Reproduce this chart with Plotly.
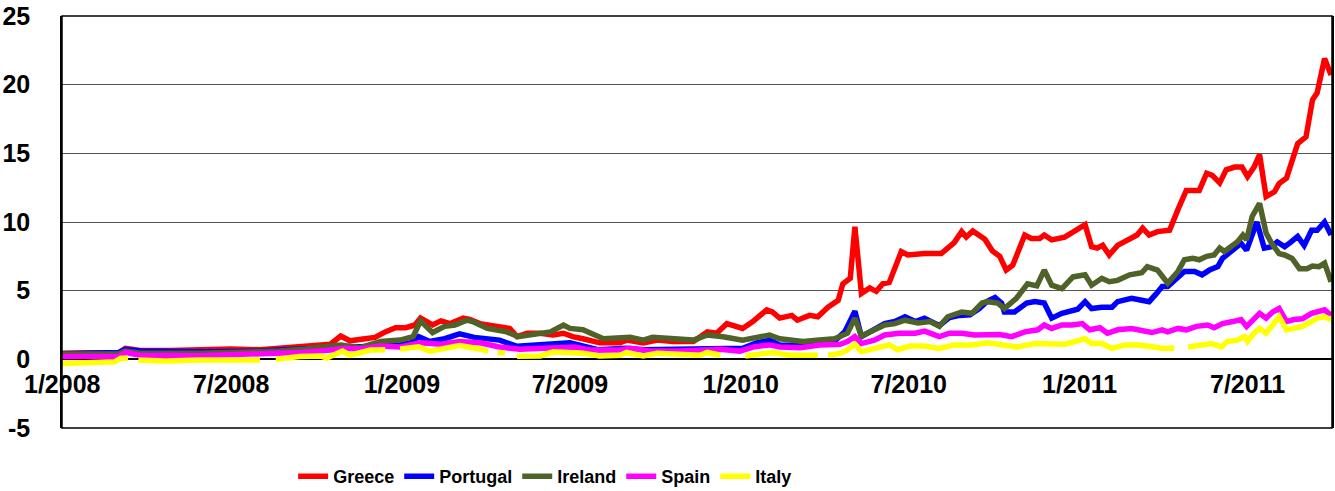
import plotly.graph_objects as go

# ---------------- data ----------------
greece_dates = ["2008-01-01","2008-02-11","2008-03-02","2008-03-09","2008-03-25","2008-04-27","2008-05-18","2008-06-09","2008-06-30","2008-08-01","2008-09-03","2008-09-19","2008-10-05","2008-10-16","2008-10-27","2008-11-06","2008-11-22","2008-12-03","2008-12-14","2008-12-25","2009-01-05","2009-01-15","2009-01-21","2009-02-03","2009-02-12","2009-02-22","2009-03-08","2009-03-15","2009-03-26","2009-04-11","2009-04-27","2009-05-05","2009-05-16","2009-05-30","2009-06-13","2009-06-24","2009-07-04","2009-07-15","2009-08-02","2009-08-24","2009-08-31","2009-09-18","2009-10-03","2009-10-20","2009-11-11","2009-11-26","2009-12-06","2009-12-17","2010-01-03","2010-01-14","2010-01-29","2010-02-04","2010-02-12","2010-02-25","2010-03-03","2010-03-16","2010-03-25","2010-04-05","2010-04-16","2010-04-21","2010-04-29","2010-05-04","2010-05-11","2010-05-20","2010-05-27","2010-06-03","2010-06-10","2010-06-23","2010-06-30","2010-07-18","2010-08-05","2010-08-19","2010-08-27","2010-09-01","2010-09-08","2010-09-21","2010-09-29","2010-10-07","2010-10-14","2010-10-21","2010-11-03","2010-11-10","2010-11-19","2010-11-24","2010-12-02","2010-12-16","2010-12-27","2011-01-07","2011-01-14","2011-01-20","2011-01-26","2011-02-02","2011-02-11","2011-02-22","2011-03-04","2011-03-10","2011-03-17","2011-03-26","2011-04-08","2011-04-17","2011-04-26","2011-05-10","2011-05-18","2011-05-24","2011-06-01","2011-06-08","2011-06-17","2011-06-25","2011-07-01","2011-07-08","2011-07-14","2011-07-21","2011-07-30","2011-08-04","2011-08-12","2011-08-24","2011-09-02","2011-09-09","2011-09-14","2011-09-22","2011-09-29"]
greece_values = [0.45,0.45,0.5,0.8,0.65,0.65,0.7,0.75,0.75,0.7,0.85,0.95,1.0,1.1,1.7,1.35,1.5,1.6,2.0,2.3,2.3,2.5,3.0,2.5,2.8,2.6,3.0,2.9,2.6,2.4,2.25,1.65,1.9,1.9,1.77,1.9,1.65,1.5,1.2,1.2,1.4,1.2,1.4,1.3,1.3,2.0,1.9,2.6,2.25,2.75,3.6,3.45,3.0,3.2,2.85,3.2,3.1,3.8,4.3,5.5,5.9,9.65,4.8,5.2,4.95,5.5,5.6,7.85,7.6,7.7,7.7,8.5,9.3,8.9,9.35,8.75,7.9,7.5,6.5,6.85,9.05,8.8,8.8,9.05,8.7,8.9,9.4,9.8,8.2,8.1,8.3,7.6,8.3,8.7,9.05,9.55,9.05,9.3,9.4,10.9,12.3,12.3,13.55,13.4,12.85,13.8,14.0,14.0,13.3,14.0,14.9,11.85,12.2,12.8,13.2,15.7,16.2,18.9,19.4,21.9,20.7]

portugal_dates = ["2008-01-01","2008-02-11","2008-03-02","2008-03-09","2008-03-25","2008-05-29","2008-08-01","2008-09-13","2008-10-16","2008-11-17","2008-12-09","2008-12-30","2009-01-10","2009-01-19","2009-01-31","2009-02-16","2009-03-04","2009-03-20","2009-04-16","2009-05-05","2009-05-30","2009-07-01","2009-07-31","2009-08-31","2009-09-18","2009-10-28","2009-12-13","2010-01-03","2010-01-18","2010-02-01","2010-02-12","2010-03-06","2010-03-27","2010-04-10","2010-04-23","2010-05-04","2010-05-11","2010-05-20","2010-06-05","2010-06-16","2010-06-27","2010-07-08","2010-07-18","2010-08-03","2010-08-14","2010-08-25","2010-09-05","2010-09-15","2010-09-23","2010-10-02","2010-10-09","2010-10-12","2010-10-23","2010-11-05","2010-11-14","2010-11-24","2010-12-02","2010-12-13","2010-12-24","2010-12-30","2011-01-07","2011-01-14","2011-01-25","2011-02-05","2011-02-11","2011-02-26","2011-03-09","2011-03-17","2011-03-25","2011-03-31","2011-04-06","2011-04-17","2011-04-24","2011-05-05","2011-05-13","2011-05-21","2011-05-30","2011-06-04","2011-06-14","2011-06-24","2011-06-30","2011-07-11","2011-07-19","2011-07-27","2011-08-02","2011-08-10","2011-08-17","2011-08-24","2011-08-31","2011-09-08","2011-09-14","2011-09-22","2011-09-29"]
portugal_values = [0.4,0.45,0.5,0.73,0.6,0.55,0.6,0.75,0.8,0.85,0.97,1.05,1.2,1.65,1.3,1.5,1.85,1.6,1.4,0.95,1.05,1.2,0.7,0.8,0.7,0.7,0.8,0.8,1.2,1.4,1.05,1.0,1.1,1.2,2.0,3.5,1.65,2.0,2.6,2.75,3.1,2.75,3.0,2.45,3.05,3.2,3.25,3.7,4.2,4.5,4.1,3.45,3.45,4.1,4.2,4.1,3.0,3.35,3.6,3.65,4.2,3.7,3.8,3.8,4.2,4.45,4.3,4.2,4.8,5.3,5.3,6.0,6.4,6.4,6.15,6.5,6.75,7.35,7.85,8.45,7.95,10.0,8.1,8.2,8.55,8.2,8.55,8.95,8.3,9.4,9.4,10.0,9.05]

ireland_dates = ["2008-01-01","2008-03-02","2008-03-09","2008-03-25","2008-05-29","2008-08-01","2008-08-23","2008-09-19","2008-10-16","2008-10-27","2008-11-17","2008-12-09","2008-12-30","2009-01-13","2009-01-21","2009-02-03","2009-02-16","2009-02-27","2009-03-12","2009-03-18","2009-04-03","2009-04-24","2009-05-06","2009-05-16","2009-05-30","2009-06-10","2009-06-24","2009-07-01","2009-07-15","2009-07-26","2009-08-06","2009-09-04","2009-09-18","2009-09-28","2009-10-20","2009-11-11","2009-11-26","2009-12-13","2010-01-03","2010-01-18","2010-02-01","2010-02-12","2010-02-26","2010-03-09","2010-03-27","2010-04-12","2010-04-26","2010-05-04","2010-05-11","2010-05-25","2010-06-05","2010-06-16","2010-06-27","2010-07-11","2010-07-24","2010-08-03","2010-08-12","2010-08-27","2010-09-07","2010-09-18","2010-09-24","2010-10-05","2010-10-12","2010-10-25","2010-11-06","2010-11-16","2010-11-24","2010-12-02","2010-12-13","2010-12-25","2011-01-07","2011-01-14","2011-01-25","2011-02-02","2011-02-11","2011-02-24","2011-03-09","2011-03-15","2011-03-26","2011-04-06","2011-04-17","2011-04-24","2011-05-03","2011-05-10","2011-05-18","2011-05-26","2011-06-01","2011-06-06","2011-06-14","2011-06-20","2011-06-26","2011-06-30","2011-07-06","2011-07-14","2011-07-21","2011-07-27","2011-08-04","2011-08-10","2011-08-18","2011-08-26","2011-09-03","2011-09-09","2011-09-16","2011-09-22","2011-09-29"]
ireland_values = [0.38,0.4,0.6,0.45,0.45,0.5,0.6,0.75,0.9,1.05,0.85,1.3,1.4,1.65,2.8,1.95,2.4,2.5,2.85,2.75,2.25,2.0,1.65,1.77,1.9,2.0,2.5,2.25,2.15,1.77,1.5,1.6,1.4,1.6,1.5,1.4,1.77,1.65,1.4,1.6,1.77,1.5,1.4,1.3,1.4,1.5,1.9,3.0,1.7,2.15,2.5,2.6,2.85,2.65,2.75,2.4,3.1,3.45,3.35,4.1,4.2,4.1,3.7,4.45,5.5,5.35,6.5,5.4,5.15,6.0,6.15,5.4,5.9,5.65,5.75,6.15,6.3,6.75,6.5,5.55,6.4,7.25,7.35,7.25,7.5,7.6,8.1,7.85,8.3,8.55,9.05,8.7,10.4,11.35,9.2,8.45,7.7,7.6,7.35,6.6,6.6,6.8,6.75,7.0,5.65]

spain_dates = ["2008-01-01","2008-03-02","2008-03-09","2008-03-25","2008-05-29","2008-08-01","2008-09-13","2008-10-16","2008-11-01","2008-11-17","2008-12-09","2008-12-30","2009-01-21","2009-02-12","2009-03-04","2009-03-26","2009-04-16","2009-05-08","2009-05-30","2009-06-25","2009-07-06","2009-07-23","2009-08-24","2009-09-04","2009-09-25","2009-10-28","2009-11-18","2009-12-10","2009-12-31","2010-01-16","2010-02-01","2010-02-12","2010-03-06","2010-03-27","2010-04-18","2010-04-26","2010-05-04","2010-05-11","2010-05-25","2010-06-05","2010-06-21","2010-07-08","2010-07-18","2010-08-03","2010-08-14","2010-08-27","2010-09-10","2010-10-07","2010-10-20","2010-11-03","2010-11-17","2010-11-24","2010-12-02","2010-12-13","2010-12-24","2011-01-04","2011-01-12","2011-01-23","2011-01-31","2011-02-11","2011-02-26","2011-03-09","2011-03-20","2011-03-31","2011-04-06","2011-04-17","2011-04-26","2011-05-07","2011-05-19","2011-05-26","2011-06-04","2011-06-15","2011-06-24","2011-06-30","2011-07-05","2011-07-14","2011-07-21","2011-07-28","2011-08-04","2011-08-12","2011-08-20","2011-08-29","2011-09-08","2011-09-14","2011-09-22","2011-09-29"]
spain_values = [0.2,0.2,0.5,0.3,0.27,0.36,0.5,0.68,0.8,0.75,0.97,0.9,1.2,1.1,1.3,1.2,0.9,0.73,0.8,0.8,0.9,0.68,0.68,0.8,0.6,0.6,0.68,0.73,0.6,0.92,1.05,0.9,0.85,1.05,1.1,1.3,1.65,1.15,1.4,1.77,1.9,1.9,2.05,1.65,1.9,1.9,1.77,1.8,1.65,2.0,2.15,2.5,2.25,2.5,2.5,2.6,2.15,2.3,1.9,2.15,2.25,2.15,1.95,2.15,2.0,2.25,2.15,2.4,2.5,2.3,2.6,2.75,2.9,2.4,2.75,3.35,3.0,3.45,3.7,2.75,2.9,2.95,3.35,3.45,3.6,3.2]

# None marks the breaks in the Italy series
italy_dates = ["2008-01-01","2008-02-11","2008-02-27","2008-03-04","2008-03-12","2008-03-18","2008-03-23","2008-04-21","2008-05-29","2008-08-01","2008-08-12","2008-08-18","2008-09-13","2008-10-05","2008-10-12","2008-10-29","2008-11-06","2008-11-28","2008-12-14","2008-12-20","2008-12-30","2009-01-19","2009-01-31","2009-02-16","2009-03-04","2009-03-26","2009-04-04","2009-04-08","2009-04-14","2009-04-22","2009-04-28","2009-05-05","2009-05-30","2009-06-13","2009-07-01","2009-07-15","2009-08-02","2009-08-24","2009-08-31","2009-09-18","2009-10-03","2009-10-28","2009-11-18","2009-11-26","2009-12-10","2009-12-21","2010-01-06","2010-01-22","2010-02-04","2010-02-23","2010-03-16","2010-03-25","2010-03-31","2010-04-05","2010-04-18","2010-04-26","2010-05-04","2010-05-11","2010-05-25","2010-06-10","2010-06-19","2010-07-02","2010-07-18","2010-08-03","2010-08-19","2010-09-07","2010-09-24","2010-10-09","2010-10-26","2010-11-14","2010-11-28","2010-12-16","2011-01-07","2011-01-14","2011-01-25","2011-02-05","2011-02-19","2011-03-05","2011-03-20","2011-03-31","2011-04-13","2011-04-18","2011-04-28","2011-05-13","2011-05-23","2011-06-03","2011-06-09","2011-06-20","2011-06-28","2011-07-01","2011-07-08","2011-07-14","2011-07-21","2011-07-28","2011-08-04","2011-08-12","2011-08-20","2011-08-29","2011-09-08","2011-09-14","2011-09-22","2011-09-29"]
italy_values = [-0.3,-0.25,-0.17,0.07,0.07,None,-0.05,-0.12,-0.05,-0.05,None,0.0,0.2,0.25,0.1,0.6,0.3,0.68,0.7,None,0.75,0.92,0.6,0.8,1.0,0.75,0.6,None,0.5,0.48,None,0.22,0.25,0.55,0.55,0.45,0.24,0.3,0.5,0.24,0.45,0.35,0.3,0.5,0.3,None,0.24,0.35,0.5,0.3,0.3,0.3,None,0.3,0.43,0.68,1.1,0.55,0.8,1.05,0.7,0.97,0.97,0.8,1.05,1.05,1.2,1.05,0.9,1.15,1.1,1.1,1.5,1.15,1.15,0.8,1.05,1.05,0.92,0.8,0.8,None,0.9,1.05,1.15,0.9,1.3,1.4,1.65,1.3,1.9,2.25,1.9,2.5,3.1,2.15,2.25,2.4,2.75,3.0,3.1,2.9]

series_names = ["Greece", "Portugal", "Ireland", "Spain", "Italy"]
series_colors = ["#FF0000", "#0000FF", "#4F6228", "#FF00FF", "#FFFF00"]
series_dates = [greece_dates, portugal_dates, ireland_dates, spain_dates, italy_dates]
series_values = [greece_values, portugal_values, ireland_values, spain_values, italy_values]

y_ticks = [-5, 0, 5, 10, 15, 20, 25]
y_tick_labels = ["-5", "0", "5", "10", "15", "20", "25"]

# ---------------- figure ----------------
FONT = "Liberation Sans, Arial, sans-serif"

fig = go.Figure()
for name, color, d, v in zip(series_names, series_colors, series_dates, series_values):
    fig.add_trace(go.Scatter(
        x=d, y=v, name=name, mode="lines",
        line=dict(color=color, width=5.5),
        connectgaps=False,
    ))

y_min, y_max = y_ticks[0], y_ticks[-1]
zero_frac = (0 - y_min) / (y_max - y_min)

fig.update_layout(
    width=1335, height=491,
    margin=dict(l=62, r=3, t=16, b=63, autoexpand=False),
    paper_bgcolor="white", plot_bgcolor="white",
    showlegend=True,
    legend=dict(
        orientation="h", x=0.182, xanchor="left", y=-0.118, yanchor="middle",
        font=dict(family=FONT, size=18, color="black", weight="bold"),
        bgcolor="rgba(0,0,0,0)", itemwidth=30, tracegroupgap=0,
    ),
    xaxis=dict(
        type="date", automargin=False,
        range=["2007-12-31 18:00", "2011-09-30"],
        tick0="2008-01-01", dtick="M6", tickformat="%-m/%Y",
        showgrid=False, zeroline=False, showline=False,
        anchor="free", position=zero_frac,
        ticks="", ticklabelstandoff=8,
        tickfont=dict(family=FONT, size=25, color="black", weight="bold"),
    ),
    yaxis=dict(
        automargin=False,
        range=[y_min, y_max], tickvals=y_ticks, ticktext=y_tick_labels,
        showgrid=True, gridcolor="#555555", gridwidth=1,
        zeroline=True, zerolinecolor="black", zerolinewidth=1.5,
        showline=True, linecolor="black", linewidth=1.5, mirror=True,
        ticks="", ticklabelstandoff=25,
        tickfont=dict(family=FONT, size=25, color="black", weight="bold"),
    ),
    shapes=[dict(type="rect", xref="paper", yref="paper", x0=0, x1=1, y0=0, y1=1,
                 line=dict(color="black", width=1.5), fillcolor="rgba(0,0,0,0)", layer="above")],
)

fig.write_html(
    "out.html",
    config={"displayModeBar": False},
    post_script="document.body.style.margin='0px'; document.body.style.overflow='hidden';",
)
